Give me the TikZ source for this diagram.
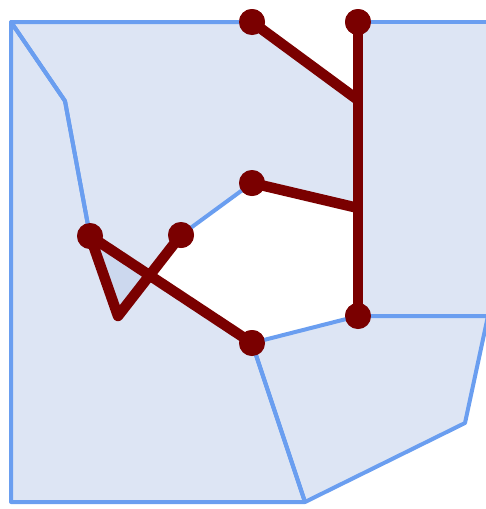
\documentclass[tikz,border=0pt]{standalone}
\definecolor{edgeblue}{RGB}{106,158,240}
\definecolor{fillblue}{RGB}{187,203,233}
\definecolor{linered}{RGB}{122,0,0}
\begin{document}
\begin{tikzpicture}[x=1pt,y=-1pt,
    region/.style={fill=fillblue,fill opacity=0.5},
    edge/.style={draw=edgeblue,line width=4pt,line join=round,line cap=round},
    track/.style={draw=linered,line width=10.5pt,line join=round},
    dot/.style={circle,fill=linered,inner sep=0pt,minimum size=26pt}]
    \useasboundingbox (0,0) rectangle (485,509);
    % polygon corners
    \coordinate (tl) at (11,22);
    \coordinate (bl) at (11,502);
    \coordinate (bm) at (305,502);
    \coordinate (br) at (465,423);
    \coordinate (mr) at (488,316);
    \coordinate (tr) at (488,22);
    \coordinate (k1) at (65,101);
    % line vertices
    \coordinate (j1) at (358,100);
    \coordinate (j2) at (358,208);
    \coordinate (v1) at (118,316);
    \node[dot] (a) at (252,22) {};
    \node[dot] (b) at (358,22) {};
    \node[dot] (c) at (252,183) {};
    \node[dot] (d) at (181,235) {};
    \node[dot] (e) at (90,236) {};
    \node[dot] (f) at (252,343) {};
    \node[dot] (g) at (358,316) {};
    % fills
    \fill[region] (tl) -- (bl) -- (bm) -- (f.center) -- (e.center) -- (k1) -- cycle;
    \fill[region] (tl) -- (a.center) -- (j1) -- (j2) -- (c.center) -- (d.center) -- (v1) -- (e.center) -- (k1) -- cycle;
    \fill[region] (b.center) -- (tr) -- (mr) -- (g.center) -- cycle;
    \fill[region] (g.center) -- (mr) -- (br) -- (bm) -- (f.center) -- cycle;
    % edges
    \draw[edge] (tl) -- (bl) -- (bm) -- (f.center) -- (e.center) -- (k1) -- cycle;
    \draw[edge] (tl) -- (a.center) -- (j1) -- (j2) -- (c.center) -- (d.center) -- (v1) -- (e.center) -- (k1) -- cycle;
    \draw[edge] (b.center) -- (tr) -- (mr) -- (g.center) -- cycle;
    \draw[edge] (g.center) -- (mr) -- (br) -- (bm) -- (f.center) -- cycle;
    % lines
    \draw[track] (a.center) -- (j1);
    \draw[track] (b.center) -- (g.center);
    \draw[track] (c.center) -- (j2);
    \draw[track] (d.center) -- (v1) -- (e.center) -- (f.center);
    \foreach \p in {a,b,c,d,e,f,g}
        \node[dot] at (\p) {};
\end{tikzpicture}
\end{document}
